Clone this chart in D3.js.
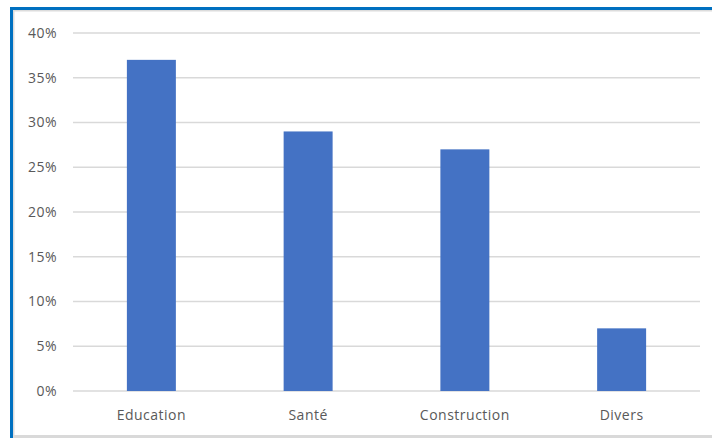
<!DOCTYPE html>
<html>
<head>
<meta charset="utf-8">
<script src="https://cdn.jsdelivr.net/npm/d3@7"></script>
<style>
	body { margin: 0; background: #fff; }
	svg { display: block; }
	text { font-family: 'Open Sans', sans-serif; fill: #595959; letter-spacing: 0.5px; }
</style>
</head>
<body>
<svg id="chart"></svg>
<script>
const categories = ['Education', 'Santé', 'Construction', 'Divers'];
const shares = [0.37, 0.29, 0.27, 0.07];
const yTicks = [0, 0.05, 0.10, 0.15, 0.20, 0.25, 0.30, 0.35, 0.40];

const width = 712,
	height = 438,
	margin = {
		top: 33,
		right: 12,
		bottom: 47,
		left: 73
	};

const svg = d3.select('#chart')
	.attr('width', width)
	.attr('height', height);

// frame: blue top/left, grey edges inside
svg.append('rect')
	.attr('x', 13).attr('y', 10)
	.attr('width', width - 13).attr('height', 1.5)
	.attr('fill', '#dcdcdc');
svg.append('rect')
	.attr('x', 13).attr('y', 435)
	.attr('width', width - 13).attr('height', 3)
	.attr('fill', '#d9d9d9');
svg.append('rect')
	.attr('x', 13).attr('y', 10)
	.attr('width', 1.5).attr('height', height - 10)
	.attr('fill', '#dcdcdc');
svg.append('rect')
	.attr('x', 10).attr('y', 7)
	.attr('width', width - 10).attr('height', 3)
	.attr('fill', '#0070C0');
svg.append('rect')
	.attr('x', 10).attr('y', 7)
	.attr('width', 3).attr('height', height - 7)
	.attr('fill', '#0070C0');

const x = d3.scaleBand()
	.domain(categories)
	.range([margin.left, width - margin.right])
	.paddingInner(0.6875)
	.paddingOuter(0.34375);

const y = d3.scaleLinear()
	.domain([0, 0.40])
	.range([height - margin.bottom, margin.top]);

const formatPct = d3.format('.0%');

// gridlines
svg.append('g')
	.selectAll('line')
	.data(yTicks)
	.join('line')
	.attr('x1', margin.left)
	.attr('x2', width - margin.right)
	.attr('y1', d => y(d))
	.attr('y2', d => y(d))
	.attr('stroke', '#d9d9d9')
	.attr('stroke-width', 1.5);

// y labels
svg.append('g')
	.selectAll('text')
	.data(yTicks)
	.join('text')
	.attr('x', 57)
	.attr('y', d => y(d))
	.attr('dy', '0.35em')
	.attr('text-anchor', 'end')
	.style('font-size', '14px')
	.text(formatPct);

// bars
svg.append('g')
	.selectAll('rect')
	.data(shares)
	.join('rect')
	.attr('x', (d, i) => x(categories[i]))
	.attr('width', x.bandwidth())
	.attr('y', d => y(d))
	.attr('height', d => y(0) - y(d))
	.attr('fill', '#4472C4');

// category labels
svg.append('g')
	.selectAll('text')
	.data(categories)
	.join('text')
	.attr('x', d => x(d) + x.bandwidth() / 2)
	.attr('y', 420)
	.attr('text-anchor', 'middle')
	.style('font-size', '14px')
	.text(d => d);
</script>
</body>
</html>
